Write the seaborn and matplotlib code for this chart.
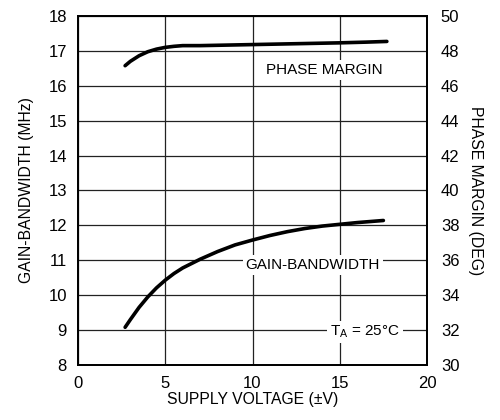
import matplotlib
matplotlib.use("Agg")
import matplotlib.pyplot as plt
import seaborn as sns
import pandas as pd

# Gain-bandwidth and phase margin vs supply voltage
supply_v = [2.7, 3.0, 3.5, 4.0, 4.5, 5.0, 5.5, 6.0, 7.0, 8.0, 9.0, 10.0, 11.0, 12.0, 13.0, 14.0, 15.0, 16.0, 17.5]
gbw_mhz = [9.08, 9.30, 9.65, 9.95, 10.21, 10.43, 10.62, 10.78, 11.03, 11.25, 11.44, 11.58, 11.71, 11.82, 11.91, 11.98, 12.03, 12.08, 12.14]
pm_v = [2.7, 3.0, 3.5, 4.0, 4.5, 5.0, 5.5, 6.0, 7.0, 9.0, 11.0, 13.0, 15.0, 16.5, 17.7]
pm_deg = [47.15, 47.40, 47.72, 47.95, 48.10, 48.20, 48.26, 48.30, 48.30, 48.34, 48.38, 48.42, 48.46, 48.50, 48.54]

x_ticks = [0, 5, 10, 15, 20]
left_ticks = [8, 9, 10, 11, 12, 13, 14, 15, 16, 17, 18]
right_ticks = [30, 32, 34, 36, 38, 40, 42, 44, 46, 48, 50]

sns.set_theme(style="white")
font = ["Liberation Sans", "DejaVu Sans"]
plt.rcParams["font.family"] = font
plt.rcParams["text.color"] = "black"
plt.rcParams["axes.labelcolor"] = "black"

gbw = pd.DataFrame({"v": supply_v, "gbw": gbw_mhz})
pm = pd.DataFrame({"v": pm_v, "pm": pm_deg})

fig = plt.figure(figsize=(5, 4.2), dpi=100)
ax = fig.add_axes([0.156, 0.131, 0.698, 0.831])
ax2 = ax.twinx()

ax.set_xlim(0, 20)
ax.set_ylim(8, 18)
ax2.set_ylim(30, 50)
ax.set_xticks(x_ticks)
ax.set_yticks(left_ticks)
ax2.set_yticks(right_ticks)

ax.grid(True, color="#222222", linewidth=0.9)
ax.set_axisbelow(True)

sns.lineplot(data=gbw, x="v", y="gbw", ax=ax, color="black", linewidth=2.6)
sns.lineplot(data=pm, x="v", y="pm", ax=ax2, color="black", linewidth=2.6)

for a in (ax, ax2):
    for s in a.spines.values():
        s.set_color("black")
        s.set_linewidth(1.3)
    a.tick_params(length=0, labelsize=12, colors="black")
ax.tick_params(axis="x", pad=8)
ax.tick_params(axis="y", pad=8)
ax2.tick_params(axis="y", pad=10)

ax.set_xlabel("SUPPLY VOLTAGE (±V)", fontsize=11.3, labelpad=1)
ax.set_ylabel("GAIN-BANDWIDTH (MHz)", fontsize=11.3, labelpad=10)
ax2.set_ylabel("PHASE MARGIN (DEG)", fontsize=11.3, rotation=270, labelpad=17)

box = dict(facecolor="white", edgecolor="none", pad=2)
ax.text(14.1, 16.45, "PHASE MARGIN", fontsize=11, ha="center", va="center", bbox=box)
ax.text(13.45, 10.87, "GAIN-BANDWIDTH", fontsize=11, ha="center", va="center", bbox=box)
ax.text(16.45, 8.95, "T$_\\mathregular{A}$ = 25°C", fontsize=11, ha="center", va="center", bbox=box)

fig.savefig("out.png", dpi=100)
